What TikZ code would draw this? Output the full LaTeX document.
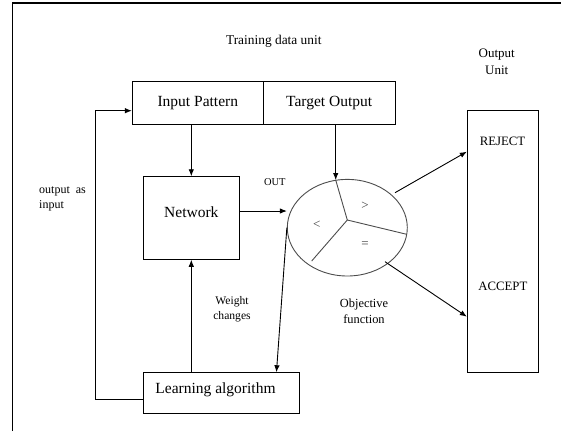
\documentclass[tikz,border=0pt]{standalone}
\usepackage{fontspec}
\setmainfont{Liberation Serif}
\usetikzlibrary{arrows.meta,shapes.geometric,calc}

\begin{document}
\begin{tikzpicture}[x=1pt,y=-1pt,
    boxtext/.style = {font=\fontsize{15.5}{18}\selectfont},
    box/.style = {draw, rectangle, line width=0.9pt, inner sep=0pt, boxtext},
    note/.style = {inner sep=0pt, align=center,
      font=\fontsize{12}{15}\selectfont},
    sign/.style = {inner sep=0pt, text=black!75,
      font=\fontsize{13}{15}\selectfont},
    spoke/.style = {draw=black!70, line width=0.9pt},
    arr/.style = {-{Latex[length=7pt,width=5.5pt]}, line width=0.9pt}]
  \useasboundingbox (0,0) rectangle (561,431);
  \draw[line width=1.2pt] (12.3,431) -- (12.3,3) -- (561,3);

  % training data unit
  \node[box, minimum width=131pt, minimum height=42.6pt] (ip) at (197.8,103) {Input Pattern};
  \node[box, minimum width=131.7pt, minimum height=42.6pt] (to) at (329.15,103) {Target Output};
  \node[note, font=\fontsize{13.4}{16}\selectfont] (tdu) at (273.8,41.7) {Training data unit};

  % network and learning
  \node[box, minimum width=96pt, minimum height=82.6pt,
    label={[boxtext,yshift=6.3pt]center:Network}] (net) at (191.3,218) {};
  \node[box, minimum width=156pt, minimum height=40.6pt,
    label={[boxtext,xshift=-5.8pt,yshift=3pt]center:Learning algorithm}] (la) at (221.3,393) {};

  % objective function
  \node[ellipse, draw=black!70, line width=0.9pt, inner sep=0pt,
    minimum width=120pt, minimum height=96.6pt] (obj) at (347.3,227.7) {};
  \coordinate (hub) at (347.3,220);
  \coordinate (s1) at (335.7,180);
  \coordinate (s2) at (406.7,234.3);
  \coordinate (s3) at (311.7,261);
  \draw[spoke] (s1) -- (hub) -- (s2);
  \draw[spoke] (hub) -- (s3);
  \node[sign] (gt) at (365,206) {>};
  \node[sign] (lt) at (316.7,225) {<};
  \node[sign] (eq) at (365,244.3) {=};

  % output unit
  \node[box, minimum width=71.4pt, minimum height=262.3pt] (outu) at (503,241.2) {};
  \node[note, font=\fontsize{12.8}{15}\selectfont] (rej) at (502.5,141) {REJECT};
  \node[note, font=\fontsize{12.8}{15}\selectfont] (acc) at (502.8,286.7) {ACCEPT};
  \node[note, font=\fontsize{13}{16.7}\selectfont] (ou) at (496.7,61.7) {Output\\Unit};

  % labels
  \node[note, font=\fontsize{10.5}{12}\selectfont] (out) at (274.8,181.7) {OUT};
  \node[note, align=left, anchor=west, font=\fontsize{12}{15.7}\selectfont] (oai) at (39,199) {output\ \ as\\ input};
  \node[note, font=\fontsize{11.6}{15}\selectfont] (wc) at (232,309.2) {Weight\\changes};
  \node[note, font=\fontsize{12.4}{16}\selectfont] (of) at (364,311) {Objective\\function};

  % connections
  \draw[arr] (net.north |- ip.south) -- (net.north);
  \draw[arr] (s1 |- to.south) -- (s1);
  \draw[arr] ([yshift=7pt]net.east) -- ([yshift=7pt]net.east -| obj.west);
  \draw[arr] (obj.west) -- ([xshift=-23.3pt]la.north east);
  \draw[arr] (net.south |- la.north) -- (net.south);
  \draw[arr] ([yshift=-6pt]la.west) -- ++(-47.3,0) |- ([yshift=-7.7pt]ip.west);
  \draw[arr] ($(obj.center)+(47.7,-35)$) -- ([yshift=89.5pt]outu.west);
  \draw[arr] ($(obj.center)+(37.7,34)$) -- ([yshift=-75.5pt]outu.west);
\end{tikzpicture}
\end{document}
